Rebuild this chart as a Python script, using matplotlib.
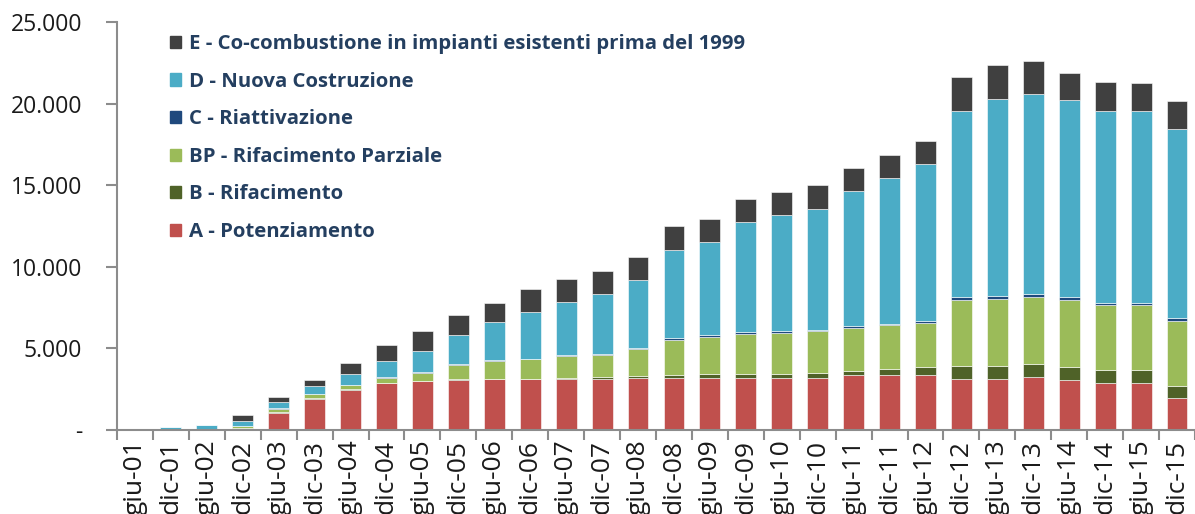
import matplotlib
matplotlib.use('Agg')
import matplotlib.pyplot as plt
import matplotlib.patches as mpatches
import matplotlib.ticker as mtick
import numpy as np

#######################################################################
#                                Data                                 #
#######################################################################
periods = ['giu-01', 'dic-01', 'giu-02', 'dic-02', 'giu-03', 'dic-03',
           'giu-04', 'dic-04', 'giu-05', 'dic-05', 'giu-06', 'dic-06',
           'giu-07', 'dic-07', 'giu-08', 'dic-08', 'giu-09', 'dic-09',
           'giu-10', 'dic-10', 'giu-11', 'dic-11', 'giu-12', 'dic-12',
           'giu-13', 'dic-13', 'giu-14', 'dic-14', 'giu-15', 'dic-15']

a_potenziamento = [20, 50, 60, 100, 1060, 1920, 2470, 2860, 2990, 3070,
                   3110, 3130, 3130, 3130, 3190, 3170, 3210, 3210, 3210, 3210,
                   3355, 3355, 3355, 3130, 3110, 3250, 3090, 2885, 2865, 1945]
b_rifacimento = [0, 0, 0, 40, 30, 40, 30, 30, 20, 30,
                 20, 20, 80, 120, 120, 200, 200, 225, 225, 265,
                 285, 390, 530, 820, 840, 800, 780, 800, 820, 780]
bp_parziale = [0, 0, 0, 100, 200, 220, 230, 300, 470, 860,
               1080, 1190, 1330, 1350, 1660, 2170, 2310, 2470, 2515, 2580,
               2640, 2680, 2700, 4010, 4070, 4110, 4110, 3945, 3945, 3970]
c_riattivazione = [0, 0, 0, 20, 40, 30, 20, 40, 60, 80,
                   60, 40, 60, 80, 60, 80, 80, 100, 120, 100,
                   100, 100, 100, 205, 205, 185, 185, 165, 165, 185]
d_nuova = [30, 130, 270, 300, 370, 500, 660, 990, 1330, 1780,
           2370, 2840, 3270, 3660, 4190, 5420, 5730, 6730, 7100, 7400,
           8280, 8900, 9610, 11410, 12065, 12250, 12025, 11780, 11740, 11575]
e_cocombustione = [0, 0, 0, 350, 350, 350, 710, 1000, 1190, 1210,
                   1165, 1430, 1410, 1410, 1410, 1430, 1410, 1410, 1410, 1430,
                   1410, 1430, 1430, 2085, 2085, 2045, 1700, 1740, 1720, 1720]

series = [
    ('A - Potenziamento', a_potenziamento, '#C0504D'),
    ('B - Rifacimento', b_rifacimento, '#4F6228'),
    ('BP - Rifacimento Parziale', bp_parziale, '#9BBB59'),
    ('C - Riattivazione', c_riattivazione, '#1F497D'),
    ('D - Nuova Costruzione', d_nuova, '#4BACC6'),
    ('E - Co-combustione in impianti esistenti prima del 1999', e_cocombustione, '#404040'),
]

#######################################################################
#                                Plot                                 #
#######################################################################
plt.rcParams['font.family'] = ['Open Sans', 'DejaVu Sans']

fig = plt.figure(figsize=(11.95, 5.14), dpi=100)
ax = fig.add_axes([117 / 1195, 84 / 514, 1078 / 1195, 408 / 514])

xs = np.arange(len(periods))
bottom = np.zeros(len(periods))
for name, vals, color in series:
    vals = np.array(vals, dtype=float)
    ax.bar(xs, vals, width=0.58, bottom=bottom, color=color,
           edgecolor='white', linewidth=0.4, label=name)
    bottom += vals

ax.set_xlim(-0.5, len(periods) - 0.5)
ax.set_ylim(0, 25000)

# y axis: thousands with dot, zero shown as a dash
def fmt_y(v, pos):
    if v == 0:
        return '-'
    return '{:,.0f}'.format(v).replace(',', '.')

ax.yaxis.set_major_locator(mtick.MultipleLocator(5000))
ax.yaxis.set_major_formatter(mtick.FuncFormatter(fmt_y))
ax.tick_params(axis='y', length=8, width=1.5, color='#8C8C8C',
               labelsize=16.5, pad=17, labelcolor='#1A1A1A')

# x axis: ticks between categories, labels in the middle
ax.set_xticks(np.arange(len(periods) + 1) - 0.5)
ax.set_xticklabels([])
ax.set_xticks(xs, minor=True)
ax.set_xticklabels(periods, minor=True, rotation=90, fontsize=19,
                   color='#1A1A1A', va='top')
ax.tick_params(axis='x', which='major', length=7, width=1.5, color='#8C8C8C')
ax.tick_params(axis='x', which='minor', length=0, pad=7)

for side in ['top', 'right']:
    ax.spines[side].set_visible(False)
for side in ['left', 'bottom']:
    ax.spines[side].set_color('#8C8C8C')
    ax.spines[side].set_linewidth(1.5)

# legend in reversed order, top-left inside the axes
handles = [mpatches.Patch(color=c, label=n) for n, _, c in series][::-1]
leg = ax.legend(handles=handles, loc='upper left', bbox_to_anchor=(0.032, 1.015),
                frameon=False, handlelength=0.55, handleheight=0.55,
                handletextpad=0.4, labelspacing=0.86,
                prop={'weight': 'bold', 'size': 14.7})
for t in leg.get_texts():
    t.set_color('#243F60')

fig.savefig('out.png', dpi=100)
